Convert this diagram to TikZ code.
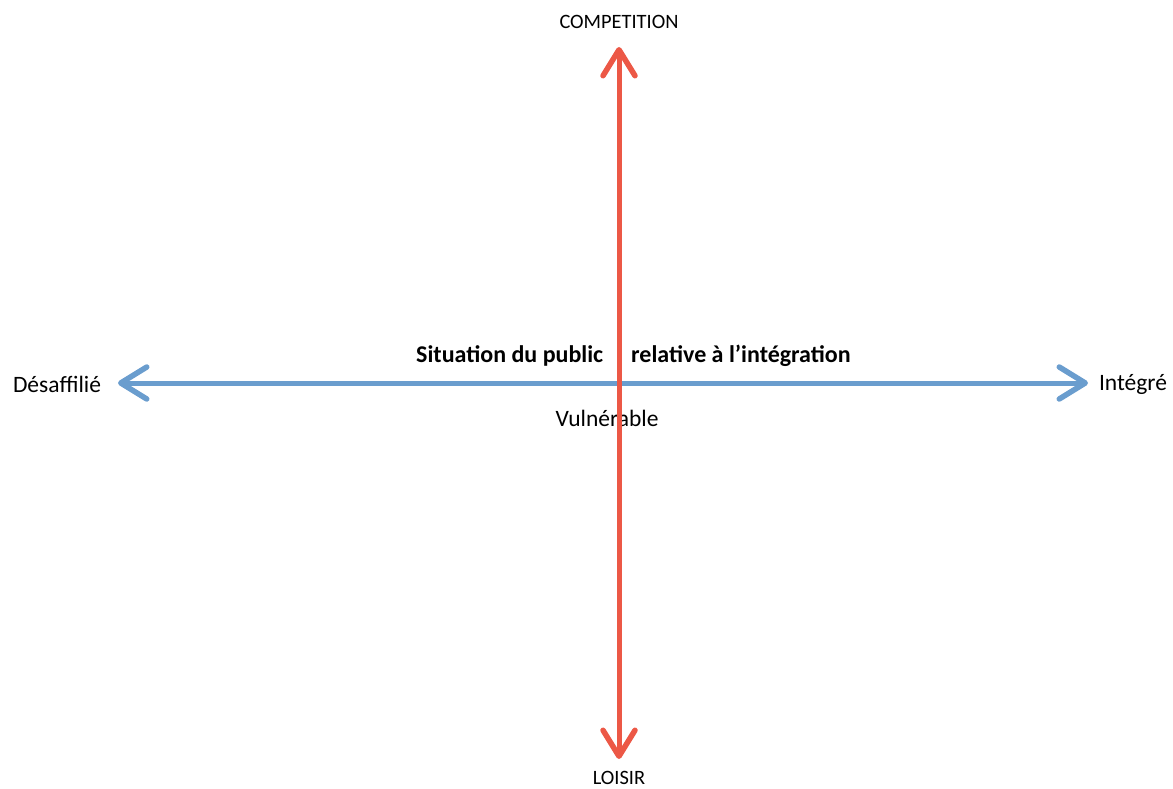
\documentclass[tikz,border=0pt]{standalone}
\usepackage{fontspec}
\setmainfont{Carlito}
\usetikzlibrary{arrows.meta}

\definecolor{axeBleu}{RGB}{106,157,206}
\definecolor{axeRouge}{RGB}{236,88,70}

\begin{document}
\begin{tikzpicture}
		[
		x=1pt, y=-1pt, font=\fontsize{23.5}{27}\selectfont,
		pointe/.tip={Straight Barb[length=26pt, width=32pt, line width=5.5pt, round]},
		axe/.style={line width=5pt, pointe-pointe},
		etiquette/.style={inner sep=0pt, anchor=center},
		petit/.style={etiquette, font=\fontsize{20.4}{24}\selectfont},
		titre/.style={etiquette, anchor=west, font=\fontsize{24}{28}\selectfont\bfseries}
		]
		
		%Rahmen
		\useasboundingbox (0,0) rectangle (1173,789);
		
		%Beschriftungen
		\node [petit] (competition) at (619,22) {COMPETITION};
		\node [petit] (loisir) at (619,778) {LOISIR};
		\node [etiquette] (desaffilie) at (57,384) {Désaffilié};
		\node [etiquette] (integre) at (1133,384) {Intégré};
		\node [titre] (situation) at (416,356) {Situation du public};
		\node [titre] (relative) at (631,356) {relative à l’intégration};
		\node [etiquette] (vulnerable) at (607,418) {Vulnérable};
		
		%Achsen
		\coordinate (gauche) at (118,383);
		\coordinate (droite) at (1088,383);
		\coordinate (haut) at (619,47);
		\coordinate (bas) at (619,759);
		\draw [axe, axeBleu] (gauche) -- (droite);
		\draw [axe, axeRouge] (haut) -- (bas);
	\end{tikzpicture}
\end{document}
